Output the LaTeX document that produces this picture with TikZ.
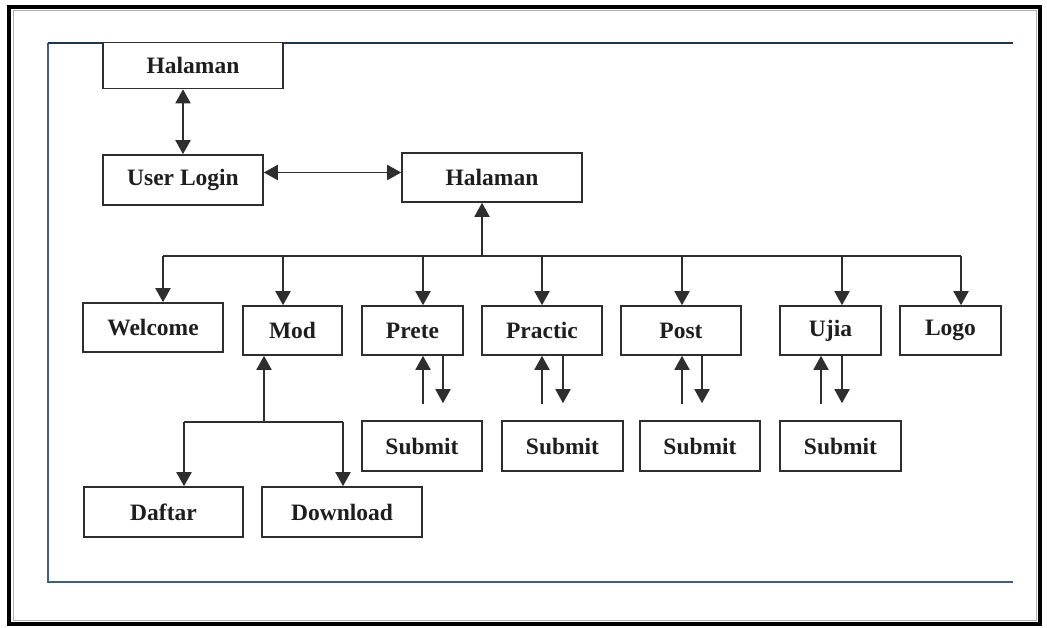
\documentclass[tikz,border=0pt]{standalone}
\usepackage{fontspec}
\setmainfont{Liberation Serif}
\usetikzlibrary{arrows.meta}
\definecolor{ln}{HTML}{2E2E2E}
\definecolor{navy}{HTML}{1F3550}
\definecolor{frameblue}{HTML}{3F5F7F}
\definecolor{txt}{HTML}{1E1E1E}
\tikzset{
  box/.style={draw=ln, line width=1.6pt, fill=white, inner sep=0pt, text=txt,
    font=\fontsize{23.5}{26}\selectfont\bfseries},
  conn/.style={draw=ln, line width=1.9pt},
  arr/.style={conn, -{Triangle[length=14pt,width=15pt]}},
  darr/.style={conn, {Triangle[length=14pt,width=15pt]}-{Triangle[length=14pt,width=15pt]}}
}
\begin{document}
\begin{tikzpicture}[x=1pt,y=-1pt]
\useasboundingbox (0,0) rectangle (1047,628);
\fill[white] (0,0) rectangle (1047,628);
% outer frame
\draw[black, line width=3.5pt] (9,7) rectangle (1040,624);
\draw[gray!60, line width=1pt] (13,11) rectangle (1036,620);
% inner blue frame
\draw[frameblue, line width=1.4pt] (48,43) -- (48,582) -- (1013,582);
\draw[navy, line width=2.8pt] (48,43) -- (1013,43);

% nodes
\node[box, minimum width=180pt, minimum height=46pt] (h1) at (193,65.5) {Halaman};
\node[box, minimum width=160pt, minimum height=50pt] (login) at (183,180) {User Login};
\node[box, minimum width=180pt, minimum height=49pt] (h2) at (492,177.5) {Halaman};

\node[box, minimum width=140pt, minimum height=49pt] (welcome) at (153,327.5) {Welcome};
\node[box, minimum width=99pt, minimum height=49pt] (mod) at (292.5,330.5) {Mod};
\node[box, minimum width=101pt, minimum height=49pt] (prete) at (412.5,330.5) {Prete};
\node[box, minimum width=120pt, minimum height=49pt] (practic) at (542,330.5) {Practic};
\node[box, minimum width=120pt, minimum height=49pt] (post) at (681,330.5) {Post};
\node[box, minimum width=101pt, minimum height=49pt] (ujia) at (830.5,330.5) {Ujia};
\node[box, minimum width=101pt, minimum height=49pt] (logo) at (950.5,330.5) {Logo};

\node[box, minimum width=120pt, minimum height=50pt] (sub1) at (422,446) {Submit};
\node[box, minimum width=121pt, minimum height=50pt] (sub2) at (562.5,446) {Submit};
\node[box, minimum width=120pt, minimum height=50pt] (sub3) at (700,446) {Submit};
\node[box, minimum width=121pt, minimum height=50pt] (sub4) at (840.5,446) {Submit};

\node[box, minimum width=159pt, minimum height=50pt] (daftar) at (163.5,512) {Daftar};
\node[box, minimum width=160pt, minimum height=50pt] (download) at (342,512) {Download};

% top connectors
\draw[darr] (login.north |- h1.south) -- (login.north);
\draw[darr] ([yshift=7.5pt]login.east) -- ([yshift=7.5pt]login.east -| h2.west);

% bus
\coordinate (bus) at (482,256);
\coordinate (bl) at (163,256);
\coordinate (br) at (961,256);
\draw[arr] (bus) -- (bus |- h2.south);
\draw[conn] (bl) -- (br);
\draw[arr] (bl) -- (bl |- welcome.north);
\draw[arr] ([xshift=-9.5pt]mod.north |- bus) -- ([xshift=-9.5pt]mod.north);
\draw[arr] ([xshift=10.5pt]prete.north |- bus) -- ([xshift=10.5pt]prete.north);
\draw[arr] (practic.north |- bus) -- (practic.north);
\draw[arr] ([xshift=1pt]post.north |- bus) -- ([xshift=1pt]post.north);
\draw[arr] ([xshift=11.5pt]ujia.north |- bus) -- ([xshift=11.5pt]ujia.north);
\draw[arr] (br) -- (br |- logo.north);

% Mod subtree
\coordinate (mj) at (264,422);
\coordinate (ml) at (184,422);
\coordinate (mr) at (343,422);
\draw[arr] (mj) -- (mj |- mod.south);
\draw[conn] (ml) -- (mr);
\draw[arr] (ml) -- (ml |- daftar.north);
\draw[arr] (mr) -- (mr |- download.north);

% submit pairs
\draw[arr] ([xshift=1pt,yshift=16pt]sub1.north) -- ([xshift=1pt]sub1.north |- prete.south);
\draw[arr] ([xshift=21pt]sub1.north |- prete.south) -- ([xshift=21pt,yshift=17pt]sub1.north);

\draw[arr] ([xshift=-20.5pt,yshift=16pt]sub2.north) -- ([xshift=-20.5pt]sub2.north |- practic.south);
\draw[arr] ([xshift=0.5pt]sub2.north |- practic.south) -- ([xshift=0.5pt,yshift=17pt]sub2.north);

\draw[arr] ([xshift=-18pt,yshift=16pt]sub3.north) -- ([xshift=-18pt]sub3.north |- post.south);
\draw[arr] ([xshift=2pt]sub3.north |- post.south) -- ([xshift=2pt,yshift=17pt]sub3.north);

\draw[arr] ([xshift=-19.5pt,yshift=16pt]sub4.north) -- ([xshift=-19.5pt]sub4.north |- ujia.south);
\draw[arr] ([xshift=1.5pt]sub4.north |- ujia.south) -- ([xshift=1.5pt,yshift=17pt]sub4.north);
\end{tikzpicture}
\end{document}
